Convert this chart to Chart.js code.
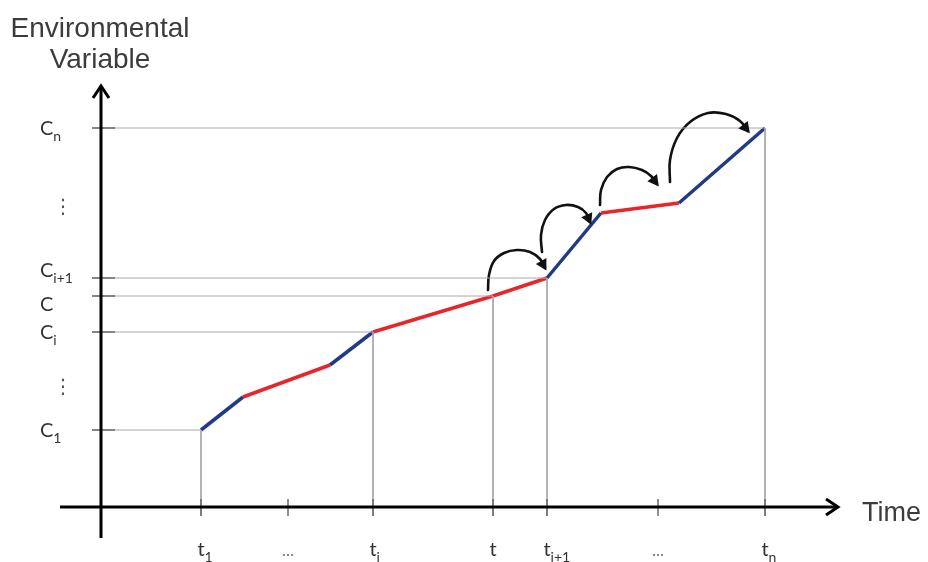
<!DOCTYPE html>
<html>
<head>
<meta charset="utf-8">
<script src="https://cdn.jsdelivr.net/npm/chart.js@4/dist/chart.umd.min.js"></script>
<style>
body { margin: 0; background: #fff; }
#wrap { width: 928px; height: 562px; position: relative; }
</style>
</head>
<body>
<div id="wrap"><canvas id="chart"></canvas></div>
<script>
// path of the environmental variable over time
const path_time = [100, 142, 229, 272, 392, 446, 500, 578, 664];
const path_value = [77, 110, 142, 175, 211, 229, 294, 304, 379];
const path_phase = ["ramp", "drift", "ramp", "drift", "drift", "ramp", "drift", "ramp"];

// instants / levels marked with guide lines
const marked_time = [100, 272, 392, 446, 664];
const marked_value = [77, 175, 211, 229, 379];

// axis ticks and their labels (base, subscript)
const time_ticks = [100, 187, 272, 392, 446, 557, 664];
const time_labels = [["t", "1"], ["...", ""], ["t", "i"], ["t", ""], ["t", "i+1"], ["...", ""], ["t", "n"]];
const value_ticks = [77, 122, 175, 211, 229, 302, 379];
const value_labels = [["C", "1"], ["⋮", ""], ["C", "i"], ["C", ""], ["C", "i+1"], ["⋮", ""], ["C", "n"]];

// curved jump arrows
const jump_1_x = [387, 388, 393, 403, 416, 429, 439, 444];
const jump_1_y = [217, 232, 246, 254, 257, 255, 248, 239];
const jump_2_x = [441, 440, 444, 453, 465, 477, 485, 489];
const jump_2_y = [255, 272, 287, 298, 302, 300, 294, 285];
const jump_3_x = [499, 500, 506, 516, 528, 541, 550, 556];
const jump_3_y = [302, 317, 330, 338, 340, 337, 331, 323];
const jump_4_x = [569, 569, 576, 589, 607, 625, 639, 647];
const jump_4_y = [325, 347, 369, 385, 394, 393, 386, 376];

const phase_colours = { ramp: "#1f3a86", drift: "#e8252b" };
const value_label_shift = [0, 0, 0, 8, -8, 0, 0];
const zip = (xs, ys) => xs.map((x, i) => ({ x: x, y: ys[i] }));

let datasets = [];

marked_time.forEach((t, i) => {
    datasets.push({
        data: [{ x: -9, y: marked_value[i] }, { x: t, y: marked_value[i] }, { x: t, y: -9 }],
        borderColor: "#a8a8a8",
        borderWidth: 1,
        tension: 0
    });
});

datasets.push({
    data: zip(path_time, path_value),
    borderWidth: 3.5,
    tension: 0,
    borderColor: phase_colours.ramp,
    segment: {
        borderColor: (ctx) => phase_colours[path_phase[ctx.p0DataIndex]]
    }
});

const jumps = [[jump_1_x, jump_1_y], [jump_2_x, jump_2_y], [jump_3_x, jump_3_y], [jump_4_x, jump_4_y]];
const first_jump = datasets.length;
jumps.forEach((j) => {
    datasets.push({
        data: zip(j[0], j[1]),
        borderColor: "#111",
        borderWidth: 2.6,
        borderCapStyle: "round",
        tension: 0.4
    });
});

const draw_label = (ctx, base, sub, x, y, align) => {
    ctx.font = "20px Lato";
    const wb = ctx.measureText(base).width;
    let left = align === "center" ? x - wb / 2 : x;
    ctx.fillText(base, left, y);
    if (sub) {
        ctx.font = "14px Lato";
        ctx.fillText(sub, left + wb, y + 6);
    }
};

const diagram_plugin = {
    id: "diagram",
    afterDatasetsDraw(chart) {
        const ctx = chart.ctx;
        const xs = chart.scales.x;
        const ys = chart.scales.y;
        const x0 = xs.getPixelForValue(0);
        const y0 = ys.getPixelForValue(0);
        ctx.save();

        // tick marks
        ctx.strokeStyle = "#6a6a6a";
        ctx.lineWidth = 1.5;
        time_ticks.forEach((t) => {
            const px = xs.getPixelForValue(t);
            ctx.beginPath();
            ctx.moveTo(px, y0 - 8);
            ctx.lineTo(px, y0 + 9);
            ctx.stroke();
        });
        marked_value.forEach((v) => {
            const py = ys.getPixelForValue(v);
            ctx.beginPath();
            ctx.moveTo(x0 - 9, py);
            ctx.lineTo(x0 + 14, py);
            ctx.stroke();
        });

        // axes with arrow heads
        ctx.strokeStyle = "#000";
        ctx.lineWidth = 3;
        ctx.lineCap = "butt";
        ctx.beginPath();
        ctx.moveTo(xs.getPixelForValue(-41), y0);
        ctx.lineTo(xs.getPixelForValue(736), y0);
        ctx.moveTo(x0, ys.getPixelForValue(-31));
        ctx.lineTo(x0, ys.getPixelForValue(420));
        ctx.stroke();
        const tipx = xs.getPixelForValue(737);
        const tipy = ys.getPixelForValue(421);
        ctx.lineJoin = "miter";
        ctx.beginPath();
        ctx.moveTo(tipx - 12, y0 - 8);
        ctx.lineTo(tipx, y0);
        ctx.lineTo(tipx - 12, y0 + 8);
        ctx.moveTo(x0 - 8, tipy + 12);
        ctx.lineTo(x0, tipy);
        ctx.lineTo(x0 + 8, tipy + 12);
        ctx.stroke();

        // arrow heads on the jumps
        ctx.fillStyle = "#111";
        for (let i = 0; i < jumps.length; i++) {
            const pts = chart.getDatasetMeta(first_jump + i).data;
            const p = pts[pts.length - 1];
            const q = pts[pts.length - 2];
            const fx = p.cp1x !== undefined ? p.cp1x : q.x;
            const fy = p.cp1y !== undefined ? p.cp1y : q.y;
            const a = Math.atan2(p.y - fy, p.x - fx);
            const cx = Math.cos(a), sy = Math.sin(a);
            const tx = p.x + cx * 3, ty = p.y + sy * 3;
            ctx.beginPath();
            ctx.moveTo(tx, ty);
            ctx.lineTo(tx - cx * 11 - sy * 6, ty - sy * 11 + cx * 6);
            ctx.lineTo(tx - cx * 11 + sy * 6, ty - sy * 11 - cx * 6);
            ctx.closePath();
            ctx.fill();
        }

        // tick labels
        ctx.fillStyle = "#333";
        ctx.textBaseline = "alphabetic";
        ctx.textAlign = "left";
        time_ticks.forEach((t, i) => {
            const lab = time_labels[i];
            if (lab[0] === "...") {
                ctx.fillStyle = "#777";
                ctx.font = "17px Lato";
                const w = ctx.measureText("...").width;
                ctx.fillText("...", xs.getPixelForValue(t) - w / 2, 556);
                ctx.fillStyle = "#333";
            } else {
                draw_label(ctx, lab[0], lab[1], xs.getPixelForValue(t), 556, "center");
            }
        });
        value_ticks.forEach((v, i) => {
            const lab = value_labels[i];
            const py = ys.getPixelForValue(v) + value_label_shift[i];
            if (lab[0] === "⋮") {
                ctx.fillStyle = "#555";
                ctx.font = "20px DejaVu Sans";
                ctx.fillText("⋮", 53, py + 8);
                ctx.fillStyle = "#333";
            } else {
                draw_label(ctx, lab[0], lab[1], 40, py + 7, "left");
            }
        });

        // axis titles
        ctx.fillStyle = "#3c3c3c";
        ctx.font = "28px 'Liberation Sans'";
        ctx.textAlign = "center";
        ctx.fillText("Environmental", 100, 37);
        ctx.fillText("Variable", 100, 68);
        ctx.textAlign = "left";
        ctx.font = "27px 'Liberation Sans'";
        ctx.fillText("Time", 862, 521);
        ctx.restore();
    }
};

new Chart(document.getElementById("chart"), {
    type: "line",
    data: { datasets: datasets },
    options: {
        responsive: true,
        maintainAspectRatio: false,
        animation: false,
        layout: { padding: 0 },
        elements: { point: { radius: 0 } },
        plugins: { legend: { display: false }, tooltip: { enabled: false } },
        scales: {
            x: { type: "linear", display: false, min: -101, max: 827 },
            y: { type: "linear", display: false, min: -55, max: 507 }
        }
    },
    plugins: [diagram_plugin]
});
</script>
</body>
</html>
